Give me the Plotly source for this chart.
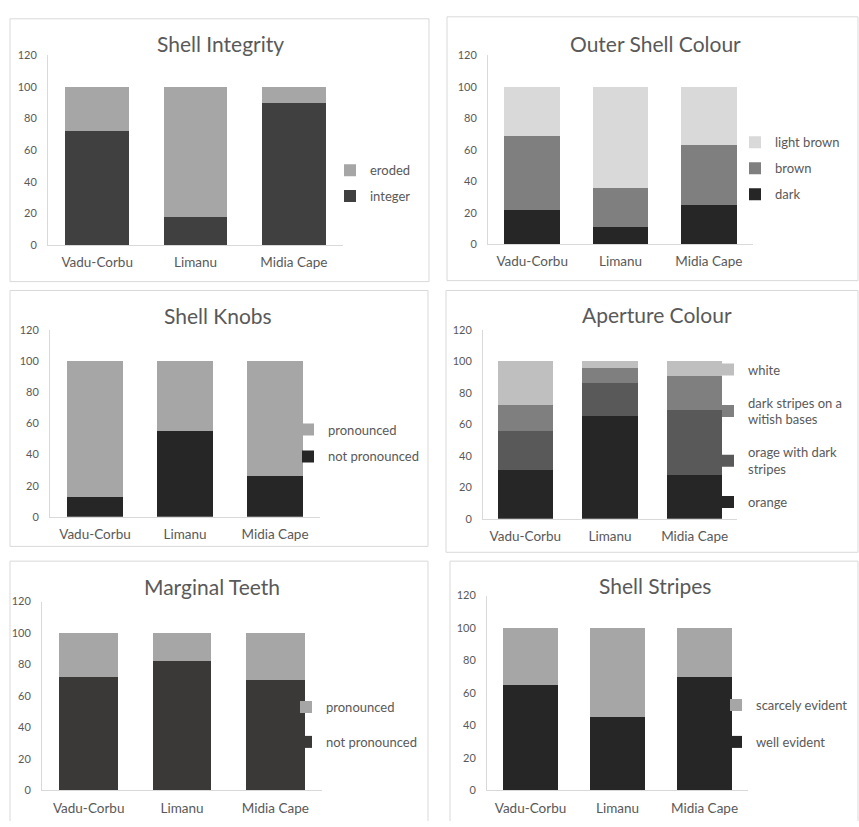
import plotly.graph_objects as go

W, H = 859, 827
sites = ["Vadu-Corbu", "Limanu", "Midia Cape"]

# Panel data (percent)
integrity_integer = [72, 18, 90]
integrity_eroded = [28, 82, 10]

outer_dark = [22, 11, 25]
outer_brown = [47, 25, 38]
outer_light_brown = [31, 64, 37]

knobs_not_pronounced = [13, 55, 26]
knobs_pronounced = [87, 45, 74]

aperture_orange = [31, 65, 28]
aperture_orage_dark = [25, 21, 41]
aperture_dark_stripes = [16, 10, 22]
aperture_white = [28, 4, 9]

teeth_not_pronounced = [72, 82, 70]
teeth_pronounced = [28, 18, 30]

stripes_well = [65, 45, 70]
stripes_scarcely = [35, 55, 30]

FONT = "Lato"
TXT = "#595959"


def px(x):
    return x / W


def py(y):
    return 1 - y / H


panels = [
    dict(title="Shell Integrity", plot=(48, 343, 49, 242), box=(10, 12, 429, 279),
         title_xy=(220, 37), legend_xy=(330, 179), gap=6, width=0.65,
         series=[("integer", integrity_integer, "#404040"),
                 ("eroded", integrity_eroded, "#a6a6a6")]),
    dict(title="Outer Shell Colour", plot=(488, 753, 49, 241), box=(447, 10, 858, 278),
         title_xy=(655, 37), legend_xy=(735, 164), gap=6, width=0.63,
         series=[("dark", outer_dark, "#262626"),
                 ("brown", outer_brown, "#7f7f7f"),
                 ("light brown", outer_light_brown, "#d9d9d9")]),
    dict(title="Shell Knobs", plot=(50, 320, 328, 518), box=(10, 288, 428, 548),
         title_xy=(218, 313), legend_xy=(288, 443), gap=7, width=0.63,
         series=[("not pronounced", knobs_not_pronounced, "#262626"),
                 ("pronounced", knobs_pronounced, "#a6a6a6")]),
    dict(title="Aperture Colour", plot=(483, 737, 328, 520), box=(446, 288, 858, 554),
         title_xy=(657, 312), legend_xy=(708, 436), gap=13, width=0.65,
         series=[("orange", aperture_orange, "#262626"),
                 ("orage with dark<br>stripes", aperture_orage_dark, "#595959"),
                 ("dark stripes on a<br>witish bases", aperture_dark_stripes, "#7f7f7f"),
                 ("white", aperture_white, "#bfbfbf")]),
    dict(title="Marginal Teeth", plot=(42, 322, 604, 796), box=(10, 563, 428, None),
         title_xy=(212, 589), legend_xy=(286, 729), gap=15, width=0.63,
         series=[("not pronounced", teeth_not_pronounced, "#3b3838"),
                 ("pronounced", teeth_pronounced, "#a6a6a6")]),
    dict(title="Shell Stripes", plot=(487, 748, 598, 796), box=(450, 563, 858, None),
         title_xy=(655, 588), legend_xy=(716, 728), gap=17, width=0.63,
         series=[("well evident", stripes_well, "#262626"),
                 ("scarcely evident", stripes_scarcely, "#a6a6a6")]),
]

fig = go.Figure()
layout = dict(
    width=W, height=H, margin=dict(l=0, r=0, t=0, b=0),
    paper_bgcolor="white", plot_bgcolor="white",
    barmode="stack", showlegend=True,
    font=dict(family=FONT, color=TXT),
)
shapes = []
annotations = []

for i, p in enumerate(panels, start=1):
    xa = "x" if i == 1 else f"x{i}"
    ya = "y" if i == 1 else f"y{i}"
    lg = "legend" if i == 1 else f"legend{i}"
    x0, x1, y0, y1 = p["plot"]
    n = len(p["series"])
    for j, (name, vals, col) in enumerate(p["series"]):
        fig.add_trace(go.Bar(
            x=sites, y=vals, name=name, xaxis=xa, yaxis=ya,
            marker=dict(color=col, line=dict(width=0)),
            width=p["width"], legend=lg, legendgroup=f"p{i}s{j}",
            legendrank=100 * (n - j), hoverinfo="skip",
        ))
    layout["xaxis" if i == 1 else f"xaxis{i}"] = dict(
        domain=[px(x0), px(x1)], anchor=ya, type="category",
        range=[-0.5, 2.5], showline=True, linecolor="#d9d9d9", linewidth=1,
        ticks="", showgrid=False, tickfont=dict(size=13.5, color=TXT, family=FONT),
        ticklabelstandoff=5, fixedrange=True,
    )
    layout["yaxis" if i == 1 else f"yaxis{i}"] = dict(
        domain=[py(y1), py(y0)], anchor=xa, range=[0, 120], dtick=20,
        showline=True, linecolor="#d9d9d9", linewidth=1, showgrid=False,
        zeroline=False, ticks="", tickfont=dict(size=11, color=TXT, family=FONT),
        ticklabelstandoff=8, fixedrange=True,
    )
    lx, ly = p["legend_xy"]
    layout[lg] = dict(
        x=px(lx), y=py(ly), xanchor="left", yanchor="middle",
        traceorder="grouped", tracegroupgap=p["gap"],
        font=dict(size=13, color=TXT, family=FONT),
        bgcolor="rgba(0,0,0,0)", borderwidth=0,
    )
    bx0, by0, bx1, by1 = p["box"]
    if by1 is None:
        path = (f"M{px(bx0)},{py(H)} L{px(bx0)},{py(by0)} "
                f"L{px(bx1)},{py(by0)} L{px(bx1)},{py(H)}")
        shapes.append(dict(type="path", xref="paper", yref="paper", path=path,
                           line=dict(color="#d9d9d9", width=1), layer="below"))
    else:
        shapes.append(dict(type="rect", xref="paper", yref="paper",
                           x0=px(bx0), x1=px(bx1), y0=py(by1), y1=py(by0),
                           line=dict(color="#d9d9d9", width=1), layer="below"))
    tx, ty = p["title_xy"]
    annotations.append(dict(text=p["title"], xref="paper", yref="paper",
                            x=px(tx), y=py(ty), xanchor="center", yanchor="middle",
                            showarrow=False, font=dict(size=21, color=TXT, family=FONT)))

layout["shapes"] = shapes
layout["annotations"] = annotations
fig.update_layout(**layout)
fig.write_html(
    "out.html",
    config={"displayModeBar": False, "staticPlot": True},
    post_script=("document.documentElement.style.margin='0';"
                 "document.body.style.margin='0';"
                 "document.documentElement.style.overflow='hidden';"
                 "document.body.style.overflow='hidden';"),
)
